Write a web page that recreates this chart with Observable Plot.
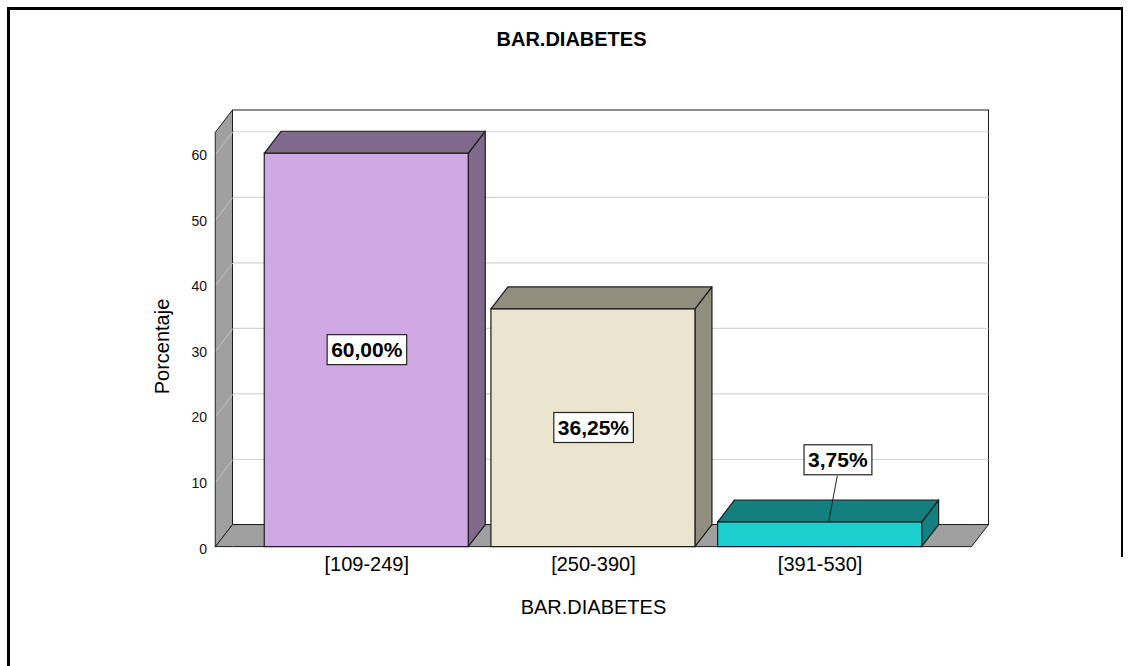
<!DOCTYPE html>
<html><head><meta charset="utf-8">
<script src="https://cdn.jsdelivr.net/npm/d3@7"></script>
<script src="https://cdn.jsdelivr.net/npm/@observablehq/plot@0.6"></script>
<style>
html,body{margin:0;padding:0;background:#fff;}
#wrap{position:relative;width:1129px;height:666px;overflow:hidden;}
#chart{position:absolute;left:0;top:0;}
#frameL{position:absolute;left:7px;top:7px;width:2.6px;height:700px;background:#000;}
#frameT{position:absolute;left:7px;top:7px;width:1116px;height:2.6px;background:#000;}
#frameR{position:absolute;left:1120.5px;top:7px;width:2.6px;height:550px;background:#000;}
</style></head><body>
<div id="wrap"><div id="chart"></div><div id="frameL"></div><div id="frameT"></div><div id="frameR"></div></div>
<script>
// ---- data ----
const categories = ["[109-249]", "[250-390]", "[391-530]"];
const percentages = [60.00, 36.25, 3.75];
const valueLabels = ["60,00%", "36,25%", "3,75%"];
const yTicks = [0, 10, 20, 30, 40, 50, 60];
const title = "BAR.DIABETES";
const xTitle = "BAR.DIABETES";
const yTitle = "Porcentaje";

// ---- styles ----
const frontColors = ["#d0a8e4", "#ebe4cf", "#1ecfcf"];
const shadeColors = ["#7f6a8c", "#918e7e", "#137f7f"];
const wallFill = "#a0a0a0";
const edge = "#1c1c1c";
const FONT = '"Liberation Sans", Arial, sans-serif';

// ---- 3D geometry (in scale units) ----
const X_MIN = -0.665, X_MAX = 2.67;   // front plane extent (category index units)
const DX = 0.075, DY = 3.36;          // depth offset
const Y_TOP = 63.24, Y_MAX = Y_TOP + DY;
const HALF = 0.45;

const bars = categories.map((c, i) => ({i, c, v: percentages[i], label: valueLabels[i], xl: i - HALF, xr: i + HALF}));

const areaOpts = {x: "x", y1: "y1", y2: "y2", curve: "linear"};
const marks = [];

// back wall
marks.push(Plot.rect([0], {x1: () => X_MIN + DX, x2: () => X_MAX + DX, y1: () => DY, y2: () => Y_MAX, fill: "white", stroke: edge, strokeWidth: 1}));
// grid lines on back wall
marks.push(Plot.ruleY(yTicks.filter(t => t > 0), {y: t => t + DY, x1: () => X_MIN + DX, x2: () => X_MAX + DX, stroke: "#d4d4d4", strokeWidth: 1.2}));
// left wall
marks.push(Plot.areaY([{x: X_MIN, y1: 0, y2: Y_TOP}, {x: X_MIN + DX, y1: DY, y2: Y_MAX}], {...areaOpts, fill: wallFill, stroke: edge, strokeWidth: 1}));
// diagonals on left wall
marks.push(Plot.link(yTicks.filter(t => t > 0), {x1: () => X_MIN, y1: t => t, x2: () => X_MIN + DX, y2: t => t + DY, stroke: "#c4c4c4", strokeWidth: 1}));
// floor
marks.push(Plot.areaY([
  {x: X_MIN, y1: 0, y2: 0},
  {x: X_MIN + DX, y1: 0, y2: DY},
  {x: X_MAX, y1: 0, y2: DY},
  {x: X_MAX + DX, y1: DY, y2: DY}
], {...areaOpts, fill: wallFill, stroke: edge, strokeWidth: 1}));

// bars
for (const b of bars) {
  marks.push(Plot.areaY([
    {x: b.xr, y1: 0, y2: b.v},
    {x: b.xr + DX, y1: DY, y2: b.v + DY}
  ], {...areaOpts, fill: shadeColors[b.i], stroke: edge, strokeWidth: 1.2}));
  marks.push(Plot.areaY([
    {x: b.xl, y1: b.v, y2: b.v},
    {x: b.xl + DX, y1: b.v, y2: b.v + DY},
    {x: b.xr, y1: b.v, y2: b.v + DY},
    {x: b.xr + DX, y1: b.v + DY, y2: b.v + DY}
  ], {...areaOpts, fill: shadeColors[b.i], stroke: edge, strokeWidth: 1.2}));
  marks.push(Plot.rect([b], {x1: "xl", x2: "xr", y1: () => 0, y2: "v", fill: frontColors[b.i], stroke: edge, strokeWidth: 1.2}));
}

// value labels
const labelPos = bars.map(b => b.v > 10
  ? {...b, lx: b.i, ly: b.v / 2, leader: false}
  : {...b, lx: b.i + 0.078, ly: b.v + 9.45, leader: true});
marks.push(Plot.link(labelPos.filter(d => d.leader), {x1: d => d.i + 0.037, y1: d => d.v, x2: d => d.lx - 0.002, y2: d => d.ly - 2.29, stroke: "#222", strokeWidth: 1}));
marks.push(Plot.text(labelPos, {x: "lx", y: "ly", text: "label", fontSize: 21, fontWeight: "bold", fontFamily: FONT, fill: "#000"}));

// y tick labels
marks.push(Plot.text(yTicks, {x: () => X_MIN - 0.039, y: t => t, text: t => String(t), textAnchor: "end", dy: 2, fontSize: 14, fontFamily: FONT, fill: "#111"}));
// x tick labels
marks.push(Plot.text(bars, {x: "i", y: () => 0, text: "c", dy: 17, fontSize: 20, fontFamily: FONT, fill: "#000"}));
// axis titles
marks.push(Plot.text([xTitle], {x: () => 1, y: () => 0, text: d => d, dy: 60, fontSize: 20, fontFamily: FONT, fill: "#000"}));
marks.push(Plot.text([yTitle], {x: () => X_MIN - 0.234, y: () => 30.6, text: d => d, rotate: -90, fontSize: 20, fontFamily: FONT, fill: "#000"}));
// chart title
marks.push(Plot.text([title], {frameAnchor: "top", lineAnchor: "middle", text: d => d, dx: 6.5, dy: 39, fontSize: 20, fontWeight: "bold", fontFamily: FONT, fill: "#000"}));

const plot = Plot.plot({
  width: 1129,
  height: 666,
  margin: 0,
  x: {type: "linear", domain: [X_MIN, X_MAX + DX], range: [215.5, 988.5], axis: null},
  y: {type: "linear", domain: [0, Y_MAX], range: [546.6, 110], axis: null},
  style: {fontFamily: FONT, background: "transparent", overflow: "visible"},
  marks
});
document.getElementById("chart").appendChild(plot);

// white boxes behind value labels
d3.select(plot).selectAll("text")
  .filter(function() { return valueLabels.includes(this.textContent); })
  .each(function() {
    const bb = this.getBBox();
    const padX = 4;
    const r = document.createElementNS("http://www.w3.org/2000/svg", "rect");
    r.setAttribute("x", bb.x - padX);
    r.setAttribute("y", bb.y + bb.height / 2 - 15);
    r.setAttribute("width", bb.width + 2 * padX);
    r.setAttribute("height", 30);
    r.setAttribute("fill", "white");
    r.setAttribute("stroke", "#222");
    r.setAttribute("stroke-width", 1.2);
    const t = this.getAttribute("transform");
    if (t) r.setAttribute("transform", t);
    this.parentNode.insertBefore(r, this);
  });
</script>
</body></html>
